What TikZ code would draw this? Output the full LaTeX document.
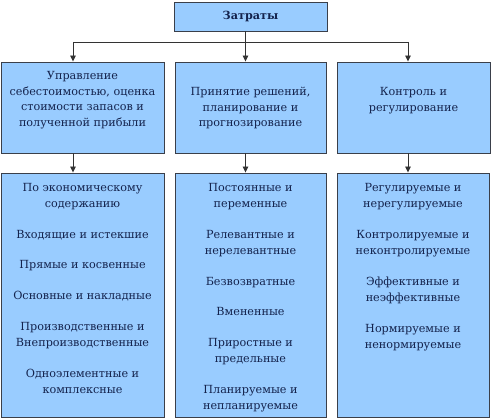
\documentclass[tikz,border=0pt]{standalone}
\usepackage{fontspec}
\setmainfont{DejaVu Serif}
\newfontfamily\tms{DejaVu Serif}
\usetikzlibrary{arrows.meta}
\definecolor{boxfill}{HTML}{99CCFF}
\definecolor{boxline}{HTML}{3A3F4A}
\definecolor{txtcol}{HTML}{14234D}
\definecolor{conn}{HTML}{333333}
\tikzset{
  box/.style={draw=boxline, fill=boxfill, line width=0.9pt, inner sep=0pt, rectangle},
  txt/.style={text=txtcol, align=center, inner sep=0pt, anchor=north,
              font=\tms\fontsize{11.2}{16.3}\selectfont},
  conline/.style={draw=conn, line width=0.9pt},
  arr/.style={conline, -{Triangle[length=6pt,width=5.5pt]}},
}
\begin{document}
\begin{tikzpicture}[x=1pt,y=-1pt]
\useasboundingbox (0,0) rectangle (491,420);
% boxes
\node[box, minimum width=153pt, minimum height=29pt] (top) at (250.5,16.5) {};
\node[box, minimum width=163pt, minimum height=91pt] (m1) at (82.5,107.5) {};
\node[box, minimum width=151pt, minimum height=91pt] (m2) at (250.5,107.5) {};
\node[box, minimum width=153pt, minimum height=91pt] (m3) at (413.5,107.5) {};
\node[box, minimum width=163pt, minimum height=244pt] (b1) at (82.5,295) {};
\node[box, minimum width=151pt, minimum height=244pt] (b2) at (250.5,295) {};
\node[box, minimum width=152pt, minimum height=244pt] (b3) at (413,295) {};
% texts
\node[txt, anchor=base, font=\tms\fontsize{11.2}{16.3}\selectfont\bfseries] (tt) at (250.5,19.5) {Затраты};
\node[txt, font=\tms\fontsize{11.2}{15.8}\selectfont] (t1) at (82.5,68) {\strut Управление\\себестоимостью, оценка\\стоимости запасов и\\полученной прибыли};
\node[txt, font=\tms\fontsize{11.2}{15.8}\selectfont] (t2) at (250.5,84) {\strut Принятие решений,\\планирование и\\прогнозирование};
\node[txt, font=\tms\fontsize{11.2}{15.8}\selectfont] (t3) at (413.5,84) {\strut Контроль и\\регулирование};
\node[txt] (u1) at (82.5,179.6) {\strut По экономическому\\содержанию\\[14.4pt]
Входящие и истекшие\\[14.4pt]
Прямые и косвенные\\[14.4pt]
Основные и накладные\\[14.4pt]
Производственные и\\Внепроизводственные\\[14.4pt]
Одноэлементные и\\комплексные};
\node[txt] (u2) at (250.5,179.6) {\strut Постоянные и\\переменные\\[14.4pt]
Релевантные и\\нерелевантные\\[14.4pt]
Безвозвратные\\[14.4pt]
Вмененные\\[14.4pt]
Приростные и\\предельные\\[14.4pt]
Планируемые и\\непланируемые};
\node[txt] (u3) at (413,179.6) {\strut Регулируемые и\\нерегулируемые\\[14.4pt]
Контролируемые и\\неконтролируемые\\[14.4pt]
Эффективные и\\неэффективные\\[14.4pt]
Нормируемые и\\ненормируемые};
% connectors
\coordinate (bL) at (73,42);
\coordinate (bM) at (245.5,42);
\coordinate (bR) at (408,42);
\draw[conline] (top.south -| bM) -- (bM);
\draw[conline] (bL) -- (bR);
\draw[arr] (bL) -- (bL |- m1.north);
\draw[arr] (bM) -- (bM |- m2.north);
\draw[arr] (bR) -- (bR |- m3.north);
\draw[arr] (m1.south -| bL) -- (b1.north -| bL);
\draw[arr] (m2.south -| bM) -- (b2.north -| bM);
\draw[arr] (m3.south -| bR) -- (b3.north -| bR);
\end{tikzpicture}
\end{document}
